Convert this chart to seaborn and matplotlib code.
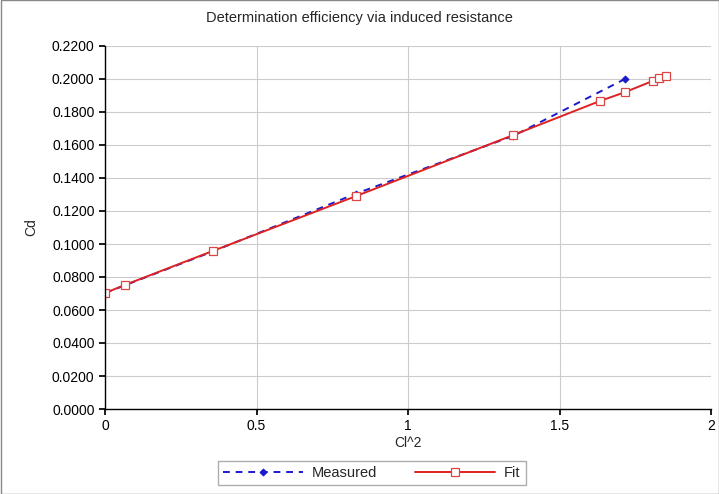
import matplotlib
matplotlib.use("Agg")
import matplotlib.pyplot as plt
import seaborn as sns
import pandas as pd
from matplotlib.ticker import FormatStrFormatter, MultipleLocator

measured_x = [0.0, 0.066, 0.356, 0.828, 1.347, 1.716]
measured_y = [0.0703, 0.0750, 0.0955, 0.1305, 0.1655, 0.2000]
fit_x = [0.0, 0.066, 0.356, 0.828, 1.347, 1.634, 1.716, 1.81, 1.83, 1.85]
fit_y = [0.0703, 0.0752, 0.0958, 0.1290, 0.1660, 0.1867, 0.1920, 0.1990, 0.2008, 0.2020]

sns.set_theme(style="whitegrid")
plt.rcParams['font.family'] = ['Liberation Sans', 'DejaVu Sans']

fig = plt.figure(figsize=(7.19, 4.94), dpi=100)
ax = fig.add_axes([105/719, 1-409/494, (711-105)/719, (409-46)/494])

dm = pd.DataFrame({"x": measured_x, "y": measured_y})
df = pd.DataFrame({"x": fit_x, "y": fit_y})

sns.lineplot(data=dm, x="x", y="y", ax=ax, color="#1a1acc", linestyle=(0, (3.5, 3)),
             marker="D", markersize=3.5, markeredgecolor="#1a1acc", lw=1.4, label="Measured",
             sort=False)
sns.lineplot(data=df, x="x", y="y", ax=ax, color="#dd2222", lw=1.4, marker="s",
             markersize=6, markerfacecolor="white", markeredgecolor="#dd4444",
             markeredgewidth=0.9, label="Fit", sort=False)

ax.set_xlim(0, 2)
ax.set_ylim(0, 0.22)
ax.yaxis.set_major_locator(MultipleLocator(0.02))
ax.yaxis.set_major_formatter(FormatStrFormatter("%.4f"))
ax.set_xticks([0, 0.5, 1, 1.5, 2])
ax.set_xticklabels(["0", "0.5", "1", "1.5", "2"])
ax.grid(True, color="#cccccc", lw=0.8)
for s in ["top", "right"]:
    ax.spines[s].set_visible(False)
for s in ["left", "bottom"]:
    ax.spines[s].set_color("black")
    ax.spines[s].set_linewidth(1.0)
ax.tick_params(axis="both", labelsize=10, colors="black", length=4, direction="out",
               left=True, bottom=True)
ax.set_xlabel("Cl^2", fontsize=10, labelpad=2)
ax.set_ylabel("Cd", fontsize=10, labelpad=10)
fig.text(0.5, 1-18/494, "Determination efficiency via induced resistance", ha="center",
         va="center", fontsize=10.5)

ax.legend(loc="upper center", bbox_to_anchor=(0.44, -0.122), ncol=2, frameon=True,
          fancybox=False, edgecolor="#999999", fontsize=10.5, handlelength=5.5,
          columnspacing=2.6, borderpad=0.35, handletextpad=0.6)

fig.patches.append(plt.Rectangle((0.5/719, 0.5/494), 1-1/719, 1-1/494, transform=fig.transFigure,
                                 fill=False, edgecolor="#888888", lw=1))
fig.savefig("out.png", dpi=100)
